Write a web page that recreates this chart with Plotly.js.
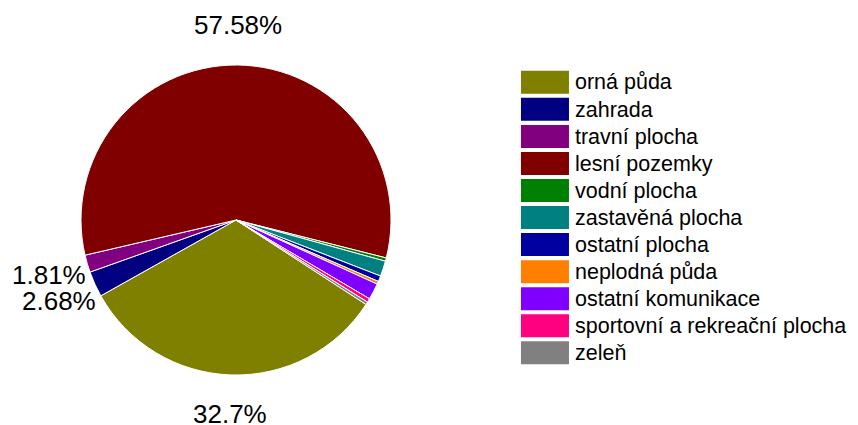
<!DOCTYPE html>
<html>
<head>
<meta charset="utf-8">
<script src="https://cdn.plot.ly/plotly-3.0.1.min.js"></script>
<style>html,body{margin:0;padding:0;background:#fff;}#chart{width:858px;height:425px;}</style>
</head>
<body>
<div id="chart"></div>
<script>
const categories = ["orná půda","zahrada","travní plocha","lesní pozemky","vodní plocha","zastavěná plocha","ostatní plocha","neplodná půda","ostatní komunikace","sportovní a rekreační plocha","zeleň"];
const shares = [32.7, 2.68, 1.81, 57.58, 0.35, 1.6, 0.6, 0.3, 1.7, 0.4, 0.28];
const sliceColors = ["#808000","#000080","#800080","#800000","#008000","#008080","#0000A0","#FF8000","#8000FF","#FF0080","#808080"];
const labelThreshold = 1.8;

const W = 858, H = 425;
const pieDomX = [81 / W, 391 / W];
const pieDomY = [50 / H, 360 / H];
const rotationDeg = 123;

const texts = shares.map(v => v >= labelThreshold ? (+v.toFixed(2)) + '%' : '');

// Label annotations placed along each slice's mid-angle (derived from the data)
const total = shares.reduce((a, b) => a + b, 0);
const cxPx = (pieDomX[0] + pieDomX[1]) / 2 * W;
const cyPx = (pieDomY[0] + pieDomY[1]) / 2 * H; // from bottom
const rPx = Math.min((pieDomX[1] - pieDomX[0]) * W, (pieDomY[1] - pieDomY[0]) * H) / 2;
const labelR = rPx * 1.255;
let acc = 0;
const annotations = [];
shares.forEach((v, i) => {
  const mid = rotationDeg + (acc + v / 2) / total * 360;
  acc += v;
  if (!texts[i]) return;
  const a = mid * Math.PI / 180;
  annotations.push({
    xref: 'paper', yref: 'paper',
    x: (cxPx + labelR * Math.sin(a)) / W,
    y: (cyPx + labelR * Math.cos(a)) / H,
    xanchor: 'center', yanchor: 'middle',
    text: texts[i], showarrow: false,
    font: {family: 'Liberation Sans, Arial, sans-serif', size: 26, color: '#000000'}
  });
});

const trace = {
  type: 'pie',
  labels: categories.map(c => '<span style="font-size:21.5px">' + c + '</span>'),
  values: shares,
  textinfo: 'none',
  sort: false,
  direction: 'clockwise',
  rotation: rotationDeg,
  marker: {colors: sliceColors, line: {color: '#ffffff', width: 1}},
  domain: {x: pieDomX, y: pieDomY},
  hoverinfo: 'label+percent'
};

const layout = {
  width: W, height: H,
  margin: {l: 0, r: 0, t: 0, b: 0},
  paper_bgcolor: '#ffffff',
  showlegend: true,
  annotations: annotations,
  legend: {
    x: 0.6002, xanchor: 'left', y: 0.85, yanchor: 'top',
    font: {family: 'Liberation Sans, Arial, sans-serif', size: 18.5, color: '#000000'},
    itemwidth: 50,
    traceorder: 'normal'
  }
};

Plotly.newPlot('chart', [trace], layout, {displayModeBar: false, staticPlot: true}).then(() => {
  document.querySelectorAll('.legendpoints path').forEach(p => {
    p.setAttribute('d', 'M24,11.5H-24V-11.5H24Z');
    p.style.strokeWidth = '0';
  });
});
</script>
</body>
</html>
